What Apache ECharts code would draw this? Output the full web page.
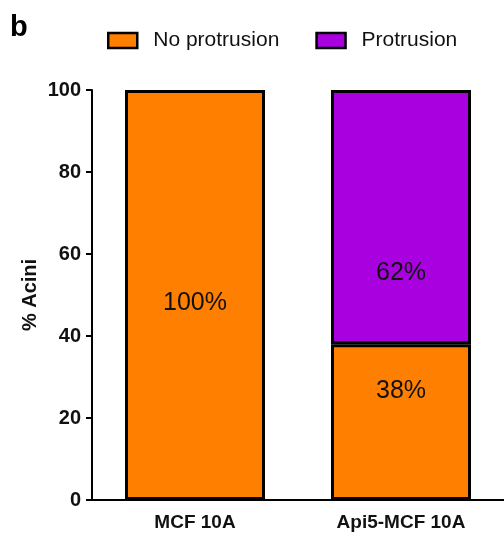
<!DOCTYPE html>
<html>
<head>
<meta charset="utf-8">
<script src="https://cdn.jsdelivr.net/npm/echarts@6/dist/echarts.min.js"></script>
<style>
  html, body { margin: 0; padding: 0; background: #fff; }
  #chart { width: 504px; height: 537px; }
</style>
</head>
<body>
<div id="chart"></div>
<script>
// Share of acini with and without protrusions per cell line
const categories = ['MCF 10A', 'Api5-MCF 10A'];
const noProtrusion = [100, 38];
const protrusion = [0, 62];
const yTicks = [0, 20, 40, 60, 80, 100];

// Label height inside each segment (fraction from the segment top)
const noProtrusionLabelPos = ['52%', '30%'];
const protrusionLabelPos = ['50%', '72%'];

const ORANGE = '#FF8000';
const PURPLE = '#A900E0';
const FONT = 'Liberation Sans, Arial, sans-serif';

const chart = echarts.init(document.getElementById('chart'), null, { renderer: 'canvas' });

function segData(values, positions) {
  return values.map((v, i) => v === 0 ? '-' : {
    value: v,
    label: { position: [ '50%', positions[i] ] }
  });
}

const segLabel = {
  show: true,
  formatter: p => p.value + '%',
  color: '#111',
  fontFamily: FONT,
  fontSize: 25,
  align: 'center',
  verticalAlign: 'middle'
};

chart.setOption({
  animation: false,
  backgroundColor: '#fff',
  title: {
    text: 'b',
    left: 5,
    top: 8,
    textStyle: { fontFamily: FONT, fontWeight: 'bold', fontSize: 29, color: '#000' }
  },
  legend: {
    left: 102,
    top: 25,
    itemWidth: 29,
    itemHeight: 15,
    itemGap: 36,
    icon: 'rect',
    itemStyle: { borderColor: '#000', borderWidth: 2.5 },
    textStyle: { fontFamily: FONT, fontSize: 21, color: '#111', padding: [0, 0, 0, 11] },
    data: ['No protrusion', 'Protrusion']
  },
  grid: { left: 92, right: -2, top: 90, bottom: 37, containLabel: false },
  xAxis: {
    type: 'category',
    data: categories,
    axisLine: { lineStyle: { color: '#000', width: 2 } },
    axisTick: { alignWithLabel: true, length: 6, lineStyle: { color: '#000', width: 2 } },
    axisLabel: { margin: 13, fontFamily: FONT, fontWeight: 'bold', fontSize: 19, color: '#111' }
  },
  yAxis: {
    type: 'value',
    min: 0,
    max: 100,
    interval: 20,
    name: '% Acini',
    nameLocation: 'middle',
    nameGap: 52,
    nameMoveOverlap: false,
    nameTextStyle: { fontFamily: FONT, fontWeight: 'bold', fontSize: 20, color: '#111' },
    axisLine: { show: true, lineStyle: { color: '#000', width: 2 } },
    axisTick: { show: true, length: 6, lineStyle: { color: '#000', width: 2 } },
    splitLine: { show: false },
    axisLabel: {
      margin: 11,
      fontFamily: FONT,
      fontWeight: 'bold',
      fontSize: 20,
      color: '#111',
      formatter: v => yTicks.includes(v) ? String(v) : ''
    }
  },
  series: [
    {
      name: 'No protrusion',
      type: 'bar',
      stack: 'total',
      barWidth: 140,
      data: segData(noProtrusion, noProtrusionLabelPos),
      itemStyle: { color: ORANGE, borderColor: '#000', borderWidth: 3 },
      label: segLabel
    },
    {
      name: 'Protrusion',
      type: 'bar',
      stack: 'total',
      barWidth: 140,
      data: segData(protrusion, protrusionLabelPos),
      itemStyle: { color: PURPLE, borderColor: '#000', borderWidth: 3 },
      label: segLabel
    }
  ]
});
</script>
</body>
</html>
